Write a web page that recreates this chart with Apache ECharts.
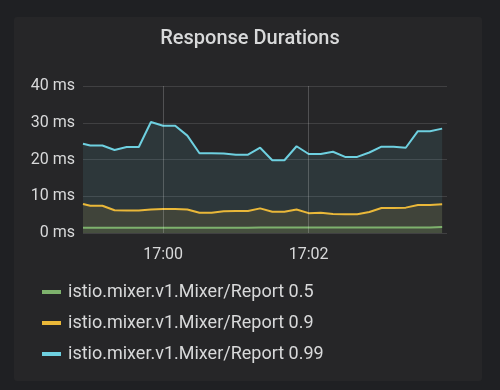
<!DOCTYPE html>
<html><head><meta charset="utf-8">
<script src="https://cdn.jsdelivr.net/npm/echarts@6/dist/echarts.min.js"></script>
<style>html,body{margin:0;padding:0;background:#1f2023;}#c{width:500px;height:390px;}</style>
</head><body><div id="c"></div>
<script>
// Time: seconds relative to 17:00:00
const times = [-66,-60,-50,-40,-30,-20,-10,0,10,20,30,40,50,60,70,80,90,100,110,120,130,140,150,160,170,180,190,200,210,220,230];
const p50 = [1.4,1.4,1.4,1.4,1.4,1.4,1.4,1.4,1.4,1.4,1.4,1.4,1.4,1.4,1.4,1.5,1.5,1.5,1.5,1.5,1.5,1.5,1.5,1.5,1.5,1.5,1.5,1.5,1.5,1.5,1.6];
const p90 = [7.9,7.4,7.4,6.2,6.1,6.1,6.4,6.5,6.5,6.4,5.5,5.5,5.9,6.0,6.0,6.7,5.8,5.8,6.4,5.4,5.5,5.2,5.1,5.1,5.7,6.8,6.8,6.9,7.6,7.6,7.8];
const p99 = [24.3,23.8,23.8,22.6,23.4,23.4,30.2,29.2,29.2,26.5,21.7,21.7,21.6,21.3,21.3,23.2,19.8,19.8,23.6,21.5,21.5,22.1,20.7,20.7,21.9,23.5,23.5,23.2,27.7,27.7,28.4];
const seriesNames = ['istio.mixer.v1.Mixer/Report 0.5','istio.mixer.v1.Mixer/Report 0.9','istio.mixer.v1.Mixer/Report 0.99'];
const xTickValues = [0,120];
const xTickLabels = ['17:00','17:02'];
const colors = ['#7eb26d','#eab839','#6ed0e0'];

const chart = echarts.init(document.getElementById('c'));
const toPairs = arr => arr.map((v,i)=>[times[i], v]);
const mk = (name, arr, color, z) => ({
  name, type:'line', data: toPairs(arr), showSymbol:false, symbol:'none', z,
  lineStyle:{width:2,color}, itemStyle:{color},
  areaStyle:{color, opacity:0.1}, animation:false
});
chart.setOption({
  animation:false,
  textStyle:{fontFamily:'Roboto'},
  graphic:[{type:'rect', shape:{x:14,y:17,width:468,height:364,r:3}, style:{fill:'#262628'}, z:-10, silent:true}],
  title:{text:'Response Durations', left:'center', top:29, padding:0, textStyle:{color:'#d8d9da', fontSize:20, fontWeight:500, fontFamily:'Roboto'}},
  grid:{left:83, right:53, top:86, bottom:157, containLabel:false},
  legend:{orient:'vertical', left:42, top:283, padding:0, itemWidth:19, itemHeight:4, itemGap:13, icon:'rect',
    textStyle:{color:'#d8d9da', fontSize:18, fontFamily:'Roboto', padding:[0,0,0,2]}, data:seriesNames},
  xAxis:{type:'value', min:-66, max:234,
    axisLine:{show:false}, axisTick:{show:false, customValues:xTickValues},
    splitLine:{show:false},
    axisLabel:{color:'#d8d9da', fontSize:16, margin:10, padding:[4,0,0,0], customValues:xTickValues,
      formatter:v=>{const i=xTickValues.indexOf(v);return i>=0?xTickLabels[i]:'';}}
  },
  yAxis:{type:'value', min:0, max:40, interval:10,
    axisLine:{show:false}, axisTick:{show:false},
    splitLine:{lineStyle:{color:'rgba(255,255,255,0.12)', width:1}},
    axisLabel:{color:'#d8d9da', fontSize:16, margin:8, formatter:v=>v+' ms'}
  },
  series:[
    mk(seriesNames[0], p50, colors[0], 3),
    mk(seriesNames[1], p90, colors[1], 2),
    Object.assign(mk(seriesNames[2], p99, colors[2], 1), {
      markLine:{silent:true, symbol:'none', label:{show:false},
        lineStyle:{color:'rgba(255,255,255,0.2)', type:'solid', width:1},
        data:xTickValues.map(v=>({xAxis:v}))}
    })
  ]
});
</script></body></html>
